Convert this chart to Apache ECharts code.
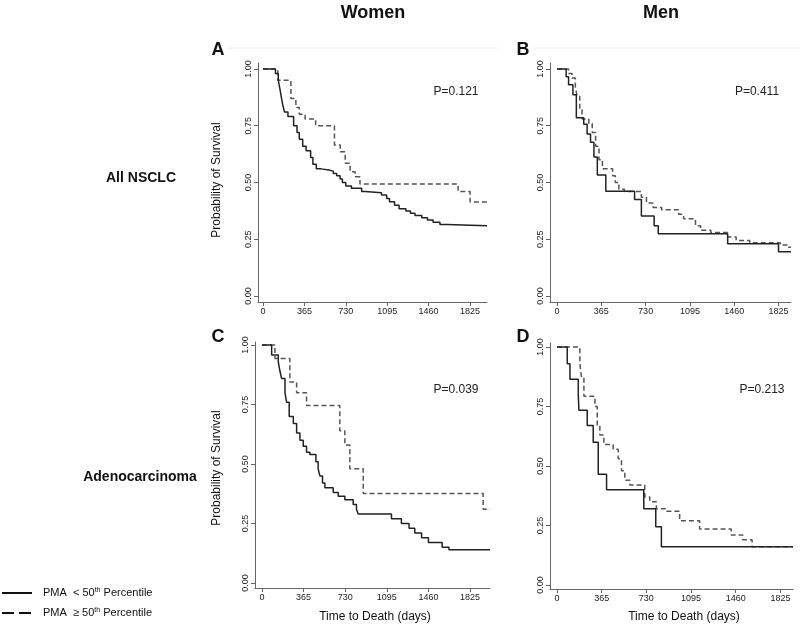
<!DOCTYPE html>
<html>
<head>
<meta charset="utf-8">
<script src="https://cdn.jsdelivr.net/npm/echarts@6/dist/echarts.min.js"></script>
<style>
  html, body { margin: 0; padding: 0; background: #fff; }
  #chart { width: 800px; height: 628px; }
</style>
</head>
<body>
<div id="chart"></div>
<script>
// Kaplan-Meier step curves: [day, survival after the step]
const aSolid = [[0, 1], [110, 0.98], [135, 0.95], [150, 0.91], [160, 0.88], [175, 0.84], [190, 0.81], [220, 0.79],
    [270, 0.75], [300, 0.72], [320, 0.69], [350, 0.66], [380, 0.64], [420, 0.61], [440, 0.58], [470, 0.56],
    [510, 0.555], [580, 0.55], [620, 0.54], [650, 0.53], [680, 0.515], [700, 0.5], [730, 0.485], [780, 0.475],
    [870, 0.46], [900, 0.455], [1045, 0.445], [1090, 0.43], [1115, 0.415], [1160, 0.4], [1200, 0.385],
    [1260, 0.375], [1300, 0.365], [1340, 0.355], [1400, 0.345], [1450, 0.335], [1500, 0.325], [1560, 0.315],
    [1620, 0.31]];
const aDashed = [[0, 1], [130, 0.95], [246, 0.87], [290, 0.83], [320, 0.8], [371, 0.78], [464, 0.75],
    [630, 0.665], [681, 0.635], [725, 0.585], [768, 0.547], [812, 0.525], [855, 0.493], [1720, 0.46], [1826, 0.414]];

const bSolid = [[0, 1], [75, 0.965], [95, 0.93], [131, 0.886], [159, 0.785], [220, 0.756], [248, 0.713],
    [276, 0.677], [304, 0.612], [332, 0.533], [402, 0.461], [639, 0.425], [695, 0.353], [800, 0.31],
    [834, 0.274], [1406, 0.23], [1825, 0.195]];
const bDashed = [[0, 1], [95, 0.98], [123, 0.96], [151, 0.92], [165, 0.88], [187, 0.82], [206, 0.78],
    [262, 0.76], [290, 0.72], [318, 0.66], [346, 0.6], [374, 0.56], [458, 0.53], [480, 0.5], [510, 0.47],
    [555, 0.46], [695, 0.435], [737, 0.41], [792, 0.39], [862, 0.38], [1002, 0.36], [1043, 0.34],
    [1141, 0.31], [1183, 0.29], [1267, 0.28], [1406, 0.26], [1476, 0.245], [1588, 0.235], [1839, 0.225],
    [1900, 0.215]];

const cSolid = [[0, 1], [85, 0.958], [143, 0.93], [158, 0.89], [172, 0.86], [202, 0.8], [216, 0.76],
    [239, 0.7], [275, 0.67], [304, 0.63], [333, 0.6], [362, 0.575], [391, 0.55], [420, 0.54], [473, 0.51],
    [493, 0.48], [508, 0.45], [531, 0.42], [552, 0.4], [625, 0.38], [669, 0.365], [727, 0.35], [800, 0.33],
    [829, 0.31], [844, 0.29], [1136, 0.27], [1223, 0.25], [1290, 0.23], [1340, 0.21], [1400, 0.19],
    [1460, 0.17], [1580, 0.15], [1640, 0.14]];
const cDashed = [[0, 1], [114, 0.944], [245, 0.845], [304, 0.8], [391, 0.746], [683, 0.64], [727, 0.58],
    [771, 0.48], [888, 0.376], [1940, 0.31]];

const dSolid = [[0, 1], [84, 0.93], [106, 0.865], [174, 0.8], [179, 0.734], [247, 0.67], [296, 0.6],
    [337, 0.465], [405, 0.4], [709, 0.32], [807, 0.245], [853, 0.161]];
const dDashed = [[0, 1], [187, 0.93], [201, 0.87], [220, 0.793], [310, 0.75], [329, 0.67], [350, 0.63],
    [383, 0.59], [459, 0.57], [500, 0.53], [527, 0.48], [554, 0.44], [595, 0.42], [717, 0.37], [758, 0.35],
    [812, 0.32], [894, 0.31], [1002, 0.27], [1165, 0.235], [1423, 0.21], [1518, 0.19], [1594, 0.161]];

const xTicks = [0, 365, 730, 1095, 1460, 1825];
const yTicks = [0, 0.25, 0.5, 0.75, 1];
const pValues = ['P=0.121', 'P=0.411', 'P=0.039', 'P=0.213'];
const panelLetters = ['A', 'B', 'C', 'D'];

const panels = [
    { grid: { left: 258, top: 63, width: 229, height: 239 }, xMin: -44, xMax: 1975, yMin: -0.026, yMax: 1.026, solid: aSolid, dashed: aDashed },
    { grid: { left: 550, top: 63, width: 241, height: 239 }, xMin: -58, xMax: 1928, yMin: -0.026, yMax: 1.026, solid: bSolid, dashed: bDashed },
    { grid: { left: 255, top: 342, width: 235, height: 246 }, xMin: -61, xMax: 2000, yMin: -0.021, yMax: 1.013, solid: cSolid, dashed: cDashed },
    { grid: { left: 550, top: 343, width: 243, height: 246 }, xMin: -57, xMax: 1928, yMin: -0.017, yMax: 1.017, solid: dSolid, dashed: dDashed },
];

function withEnd(points, xMax) {
    const last = points[points.length - 1];
    return points.concat([[xMax, last[1]]]);
}

const font = "'Liberation Sans', Arial, sans-serif";
const axisColor = '#666';

const grid = [], xAxis = [], yAxis = [], series = [];
panels.forEach((p, i) => {
    grid.push(p.grid);
    xAxis.push({
        type: 'value', gridIndex: i, min: p.xMin, max: p.xMax,
        axisLine: { onZero: false, lineStyle: { color: axisColor } },
        axisTick: { customValues: xTicks, length: 4, lineStyle: { color: axisColor } },
        axisLabel: { customValues: xTicks, color: '#222', fontSize: 9, fontFamily: font, margin: 5,
            formatter: v => String(v) },
        splitLine: { show: false },
    });
    yAxis.push({
        type: 'value', gridIndex: i, min: p.yMin, max: p.yMax,
        axisLine: { show: true, onZero: false, lineStyle: { color: axisColor } },
        axisTick: { show: true, customValues: yTicks, length: 4, lineStyle: { color: axisColor } },
        axisLabel: { customValues: yTicks, rotate: 90, color: '#222', fontSize: 9, fontFamily: font, margin: 5,
            formatter: v => v.toFixed(2) },
        splitLine: { show: false },
    });
    series.push({
        type: 'line', xAxisIndex: i, yAxisIndex: i, step: 'end', symbol: 'none', silent: true,
        data: withEnd(p.dashed, p.xMax),
        lineStyle: { color: '#555', width: 1.5, type: [5, 3] },
    });
    series.push({
        type: 'line', xAxisIndex: i, yAxisIndex: i, step: 'end', symbol: 'none', silent: true,
        data: withEnd(p.solid, p.xMax),
        lineStyle: { color: '#222', width: 1.5 },
    });
});

function text(x, y, str, size, opts) {
    return {
        type: 'text', x, y,
        style: Object.assign({ text: str, font: `${size}px ${font}`, fill: '#111', align: 'center', verticalAlign: 'middle' }, opts || {}),
    };
}

const letterPos = [[218, 50], [523, 50], [218, 337], [523, 337]];
const pPos = [[456, 92], [757, 92], [456, 390], [762, 390]];

const legendRich = {
    a: { font: `11px ${font}`, fill: '#111' },
    s: { font: `7px ${font}`, fill: '#111', verticalAlign: 'top', padding: [0, 0, 6, 0] },
};

const graphic = [
    // faint graph-region borders of the top panels
    { type: 'line', shape: { x1: 228, y1: 48, x2: 498, y2: 48 }, style: { stroke: '#eeeeee', lineWidth: 1 } },
    { type: 'line', shape: { x1: 533, y1: 48, x2: 800, y2: 48 }, style: { stroke: '#eeeeee', lineWidth: 1 } },
    text(373, 13, 'Women', 18, { font: `bold 18px ${font}` }),
    text(661, 13, 'Men', 18, { font: `bold 18px ${font}` }),
    text(141, 178, 'All NSCLC', 14, { font: `bold 14px ${font}` }),
    text(140, 477, 'Adenocarcinoma', 14, { font: `bold 14px ${font}` }),
    text(375, 617, 'Time to Death (days)', 12),
    text(684, 617, 'Time to Death (days)', 12),
    Object.assign(text(0, 0, 'Probability of Survival', 12), { x: 217, y: 180, rotation: Math.PI / 2 }),
    Object.assign(text(0, 0, 'Probability of Survival', 12), { x: 217, y: 468, rotation: Math.PI / 2 }),
    { type: 'line', shape: { x1: 2, y1: 593, x2: 32, y2: 593 }, style: { stroke: '#111', lineWidth: 2 } },
    { type: 'line', shape: { x1: 2, y1: 613, x2: 32, y2: 613 }, style: { stroke: '#111', lineWidth: 2, lineDash: [12, 5] } },
    {
        type: 'text', x: 43, y: 593,
        style: { text: '{a|PMA  < 50}{s|th}{a| Percentile}', verticalAlign: 'middle', fill: '#111', rich: legendRich },
    },
    {
        type: 'text', x: 43, y: 613,
        style: { text: '{a|PMA  ≥ 50}{s|th}{a| Percentile}', verticalAlign: 'middle', fill: '#111', rich: legendRich },
    },
];
panelLetters.forEach((l, i) => graphic.push(text(letterPos[i][0], letterPos[i][1], l, 18, { font: `bold 18px ${font}` })));
pValues.forEach((t, i) => graphic.push(text(pPos[i][0], pPos[i][1], t, 12, { fill: '#222' })));

const chart = echarts.init(document.getElementById('chart'), null, { renderer: 'canvas' });
chart.setOption({
    animation: false,
    backgroundColor: '#fff',
    grid, xAxis, yAxis, series, graphic,
});
</script>
</body>
</html>
